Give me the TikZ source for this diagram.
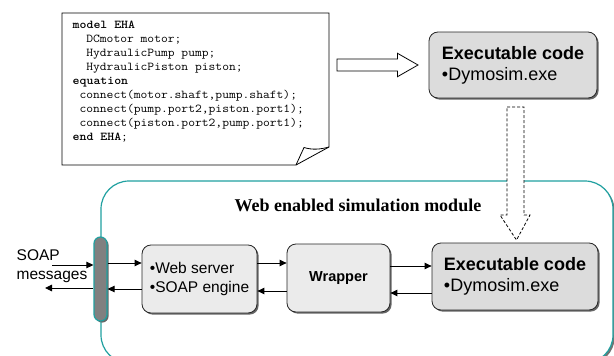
\documentclass[tikz,border=0pt]{standalone}
\usepackage{fontspec}
\setmainfont{Liberation Serif}
\newfontfamily\arialf{Liberation Sans}
\usetikzlibrary{arrows.meta,shadows,calc}
\definecolor{tealline}{RGB}{32,160,160}
\definecolor{boxa}{RGB}{235,235,235}
\definecolor{boxb}{RGB}{220,220,220}
\definecolor{bargray}{RGB}{128,128,128}
\begin{document}
\begin{tikzpicture}[x=1pt,y=-1pt,
  shd/.style={general shadow={shadow xshift=1.6pt,shadow yshift=-1.6pt,fill=black!60}},
  rbox/.style={draw=black!85, line width=0.8pt, rounded corners=9pt, shd, inner sep=0pt, align=left},
  arr/.style={-{Triangle[length=7pt,width=6.5pt]}, line width=0.9pt},
  codefont/.style={font=\ttfamily\fontsize{12}{14}\selectfont},
  exfont/.style={font=\arialf\fontsize{18}{21}\selectfont},
  wsfont/.style={font=\arialf\fontsize{15.5}{19}\selectfont},
 ]
\useasboundingbox (0,0) rectangle (614,356);
\clip (0,0) rectangle (614,356);

% module frame
\draw[tealline, line width=1.2pt, fill=white, rounded corners=28pt,
  general shadow={shadow xshift=1.8pt,shadow yshift=-1.8pt,fill=black!55}]
  (101,181) rectangle (613,363);
\node[font=\bfseries\fontsize{18}{18}\selectfont] (title) at (358,205) {Web enabled simulation module};

% code sheet
\draw[line width=0.8pt, fill=white] (62,13) -- (329,13) -- (329,147) -- (296,165) -- (62,165) -- cycle;
\draw[line width=0.8pt] (296,165) -- (304,147.5) .. controls (312,150) and (320,149.5) .. (329,147);
\node[codefont, anchor=north west, inner sep=0pt, align=left, xscale=1.1, transform shape] (code) at (72.5,21) {%
\textbf{model EHA}\\
\ \ DCmotor motor;\\
\ \ HydraulicPump pump;\\
\ \ HydraulicPiston piston;\\
\textbf{equation}\\
\ connect(motor.shaft,pump.shaft);\\
\ connect(pump.port2,piston.port1);\\
\ connect(piston.port2,pump.port1);\\
\textbf{end EHA};};

% hollow arrow
\draw[line width=0.8pt, fill=white] (337,59) -- (397.5,59) -- (397.5,53.3) -- (418,65) -- (397.5,76.7) -- (397.5,71) -- (337,71) -- cycle;

% top executable
\node[rbox, fill=boxb, minimum width=168pt, minimum height=66pt, exfont] (ex1) at (513,65)
  {\textbf{Executable code}\\\textbullet Dymosim.exe};

% dashed arrow
\draw[line width=0.8pt, dash pattern=on 3pt off 2pt, fill=white] (507,107) -- (524,107) -- (524,215) -- (530,215) -- (516.5,240) -- (500,215) -- (507,215) -- cycle;

% bottom row
\node[draw=tealline, line width=1.2pt, fill=bargray, rounded corners=6.5pt, minimum width=13pt, minimum height=84pt, inner sep=0pt, shd] (bar) at (100.5,279) {};
\node[rbox, fill=boxa, minimum width=115pt, minimum height=68pt, wsfont] (ws) at (199.5,279)
  {\textbullet Web server\\\textbullet SOAP engine};
\node[rbox, fill=boxa, minimum width=103pt, minimum height=68pt, font=\arialf\bfseries\fontsize{14.5}{17}\selectfont] (wr) at (338.5,278) {Wrapper};
\node[rbox, fill=boxb, minimum width=166pt, minimum height=67pt, exfont] (ex2) at (515,276.5)
  {\textbf{Executable code}\\\textbullet Dymosim.exe};

\node[wsfont, anchor=west, inner sep=0pt, align=left] (soap) at (16.5,266) {SOAP\\messages};

% connectors
\coordinate (sin) at (52,265);
\coordinate (sout) at (45,288);
\draw[arr] (sin) -- (sin -| bar.west);
\draw[arr] (sout -| bar.west) -- (sout);
\path ([yshift=16pt]ws.west) coordinate (a1);
\path ([yshift=-10pt]ws.west) coordinate (a2);
\draw[arr] (a1 -| bar.east) -- (a1);
\draw[arr] (a2) -- (a2 -| bar.east);
\path ([yshift=16pt]ws.east) coordinate (b1);
\path ([yshift=-12pt]ws.east) coordinate (b2);
\draw[arr] (b1) -- (b1 -| wr.west);
\draw[arr] (b2 -| wr.west) -- (b2);
\path ([yshift=12pt]wr.east) coordinate (c1);
\path ([yshift=-15pt]wr.east) coordinate (c2);
\draw[arr] (c1) -- (c1 -| ex2.west);
\draw[arr] (c2 -| ex2.west) -- (c2);
\end{tikzpicture}
\end{document}
